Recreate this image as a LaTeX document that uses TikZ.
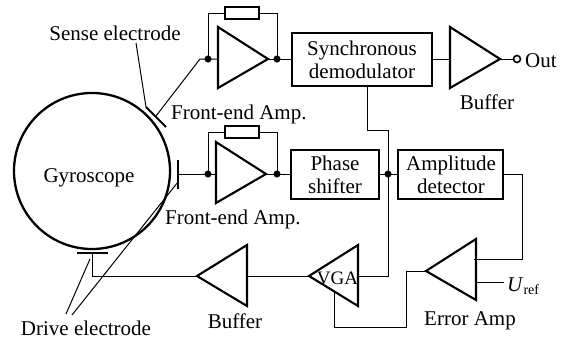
\documentclass[tikz,border=0pt]{standalone}
\usepackage{fontspec}
\setmainfont{Liberation Serif}
\usetikzlibrary{calc}
\tikzset{
  thin wire/.style={line width=1pt,line join=miter},
  thick shape/.style={line width=2.1pt,line join=miter},
  blockbox/.style={draw,line width=2.1pt,inner sep=0pt,align=center},
  res/.style={draw,line width=1.8pt,minimum width=34pt,minimum height=12pt,inner sep=0pt,fill=white},
  lab/.style={inner sep=0pt,align=center},
  dotn/.style={circle,fill=black,draw=black,line width=0.5pt,inner sep=0pt,minimum size=6.5pt},
  opn/.style={circle,draw,line width=1.6pt,fill=white,inner sep=0pt,minimum size=7pt}
}
\begin{document}
\begin{tikzpicture}[x=1pt,y=-1pt,font=\fontsize{21}{24}\selectfont]
\useasboundingbox (0,0) rectangle (568,343);
% gyroscope
\node[circle,draw,line width=2.3pt,minimum size=156pt,inner sep=0pt] (gyro) at (92,171) {};
\node[lab] (gyrot) at (89,178) {Gyroscope};
% electrodes
\coordinate (se1) at (146,107); \coordinate (se2) at (166,127);
\coordinate (sew) at (156,116);
\coordinate (de1) at (178,160); \coordinate (de2) at (178,189); \coordinate (dew) at (178,174);
\coordinate (dd1) at (77,253); \coordinate (dd2) at (108,253); \coordinate (ddw) at (92,253);
\draw[thick shape] (se1) -- (se2);
\draw[thick shape] (dd1) -- (dd2);
\draw[line width=1.6pt] (de1) -- (de2);
% blocks
\node[blockbox,minimum width=140pt,minimum height=53pt] (demod) at (362,59.5) {};
\node[lab,text width=140pt] at (362,60) {Synchronous\\[-0.5pt]demodulator};
\node[blockbox,minimum width=88pt,minimum height=49pt] (phase) at (335,174.5) {};
\node[lab] at (335,175) {Phase\\[-1pt]shifter};
\node[blockbox,minimum width=105pt,minimum height=49pt] (ampl) at (450.5,174.5) {};
\node[lab] at (451,174.5) {Amplitude\\[-1pt]detector};
% amp 1
\coordinate (a1a) at (218,27); \coordinate (a1b) at (218,88); \coordinate (a1t) at (268,59);
\coordinate (a1i) at (218,59);
\draw[thick shape] (a1a) -- (a1b) -- (a1t) -- cycle;
\node[res] (r1) at (242,13) {};
\coordinate (k1) at (200,59);
\coordinate (p1) at (208,59); \coordinate (p2) at (277,59);
\draw[thin wire] (sew) -- (k1) -- (a1i);
\draw[thin wire] (p1) |- (r1) -| (p2);
\draw[thin wire] (a1t) -- (demod.west |- p2);
\node[dotn] (n1) at (p1) {};
\node[dotn] (n2) at (p2) {};
% amp 2
\coordinate (a2a) at (216,142); \coordinate (a2b) at (216,203); \coordinate (a2t) at (266,174);
\draw[thick shape] (a2a) -- (a2b) -- (a2t) -- cycle;
\node[res] (r2) at (242,132) {};
\coordinate (p3) at (208,174); \coordinate (p4) at (277,174);
\draw[thin wire] (dew) -- (a2a |- p3);
\draw[thin wire] (p3) |- (r2) -| (p4);
\draw[thin wire] (a2t) -- (phase.west |- p4);
\node[dotn] (n3) at (p3) {};
\node[dotn] (n4) at (p4) {};
% buffer out
\coordinate (b1a) at (450,27); \coordinate (b1b) at (450,88); \coordinate (b1t) at (500,59);
\draw[thick shape] (b1a) -- (b1b) -- (b1t) -- cycle;
\node[opn] (outc) at (517,59) {};
\draw[thin wire] (demod.east |- b1t) -- (b1a |- b1t);
\draw[thin wire] (b1t) -- (outc);
\node[lab,anchor=west] (outt) at (525,61) {Out};
\node[lab] at (487,102) {Buffer};
% VGA
\coordinate (va) at (358,245); \coordinate (vb) at (358,306); \coordinate (vt) at (309,276);
\draw[thick shape] (va) -- (vb) -- (vt) -- cycle;
\node[lab,font=\fontsize{19}{22}\selectfont] (vgat) at (337.5,278) {VGA};
\coordinate (vr) at (358,276);
\coordinate (vc) at (334,292);
% buffer 2
\coordinate (b2a) at (247,245); \coordinate (b2b) at (247,306); \coordinate (b2t) at (197,276);
\draw[thick shape] (b2a) -- (b2b) -- (b2t) -- cycle;
\coordinate (b2r) at (247,276);
\draw[thin wire] (vt) -- (b2r);
\draw[thin wire] (b2t) -| (ddw);
\node[lab] at (235,321) {Buffer};
% error amp
\coordinate (ea) at (476,239); \coordinate (eb) at (476,300); \coordinate (et) at (426,271);
\draw[thick shape] (ea) -- (eb) -- (et) -- cycle;
\coordinate (ei) at (474,259); \coordinate (eu) at (476,282); \coordinate (uend) at (504,282);
\draw[thin wire] (uend) -- (eu);
\node[lab,anchor=west] (uref) at (507,286) {\textit{U}\raisebox{-3pt}{\fontsize{14}{14}\selectfont ref}};
\node[lab] at (470,321) {Error Amp};
% wiring
\coordinate (p5) at (388,174);
\coordinate (w1) at (367,130); \coordinate (w2) at (388,130);
\draw[thin wire] (phase.east |- p5) -- (ampl.west |- p5);
\draw[thin wire] (demod.south -| w1) -- (w1) -- (w2) -- (p5);
\draw[thin wire] (p5) -- (388,276) -- (vr);
\draw[thin wire] (ampl.east |- p5) -- (522,174) -- (522,259) -- (ei);
\draw[thin wire] (et) -- (406,271) -- (406,327) -- (334,327) -- (vc);
\node[dotn] (n5) at (p5) {};
% labels and leaders
\node[lab] (sl) at (115,33) {Sense electrode};
\node[lab,anchor=west] at (171,114) {Front-end Amp.};
\node[lab,anchor=west] at (165,219) {Front-end Amp.};
\node[lab] (dl) at (86,328) {Drive electrode};
\coordinate (l1) at (136,43); \coordinate (l2) at (66,314); \coordinate (l3) at (72,315);
\coordinate (l4) at (90,259); \coordinate (l5) at (178,182);
\draw[thin wire] (l1) -- (se1);
\draw[thin wire] (l2) -- (l4);
\draw[thin wire] (l3) -- (l5);
\end{tikzpicture}
\end{document}
